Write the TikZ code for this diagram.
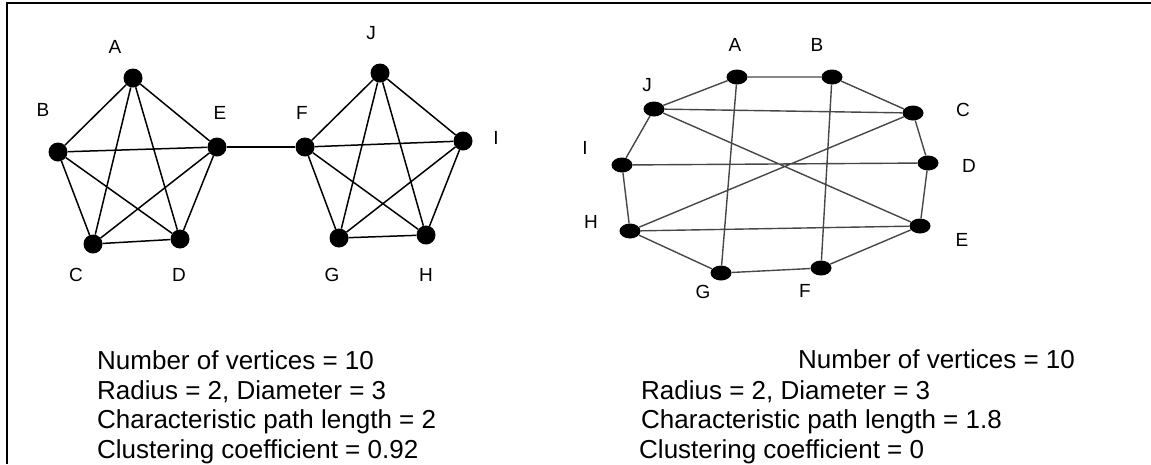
\documentclass[tikz,border=0pt]{standalone}
\usepackage{fontspec}
\setmainfont{Liberation Sans}
\usetikzlibrary{shapes.geometric}

\begin{document}
\begin{tikzpicture}[x=1pt, y=-1pt,
  vtx/.style={circle, fill=black, inner sep=0pt, minimum size=19pt},
  ovx/.style={ellipse, fill=black, inner sep=0pt, minimum width=21pt, minimum height=15pt},
  lbl/.style={inner sep=0pt, font=\fontsize{19}{19}\selectfont},
  stat/.style={anchor=base west, inner sep=0pt, font=\fontsize{26}{30}\selectfont},
  lnk/.style={line width=1.5pt},
  rlnk/.style={line width=1.4pt, draw=black!72}
]
\useasboundingbox (0,0) rectangle (1151,464);

% frame
\draw[line width=2pt] (6.5,464) -- (6.5,3.3) -- (1151,3.3);

% left graph: two K5 joined by E--F
\node[vtx] (lA) at (133,78) {};
\node[vtx] (lB) at (58,152) {};
\node[vtx] (lC) at (93,244) {};
\node[vtx] (lD) at (180,239) {};
\node[vtx] (lE) at (217,147) {};
\node[vtx] (lF) at (305,147) {};
\node[vtx] (lG) at (339,238) {};
\node[vtx] (lH) at (426,235) {};
\node[vtx] (lI) at (463,141) {};
\node[vtx] (lJ) at (380,73) {};

\node[lbl] at (115,47)  {A};
\node[lbl] at (43,110)  {B};
\node[lbl] at (76,275)  {C};
\node[lbl] at (179,275) {D};
\node[lbl] at (220,113) {E};
\node[lbl] at (302,113) {F};
\node[lbl] at (332,275) {G};
\node[lbl] at (426,275) {H};
\node[lbl] at (496,138) {I};
\node[lbl] at (371,33)  {J};

\draw[lnk] (lA) -- (lB) (lA) -- (lC) (lA) -- (lD) (lA) -- (lE)
           (lB) -- (lC) (lB) -- (lD) (lB) -- (lE)
           (lC) -- (lD) (lC) -- (lE) (lD) -- (lE);
\draw[lnk] (lE) -- (lF);
\draw[lnk] (lF) -- (lG) (lF) -- (lH) (lF) -- (lI) (lF) -- (lJ)
           (lG) -- (lH) (lG) -- (lI) (lG) -- (lJ)
           (lH) -- (lI) (lH) -- (lJ) (lI) -- (lJ);

% right graph: 10-cycle with chords
\node[ovx] (rA) at (737,77)  {};
\node[ovx] (rB) at (832,77)  {};
\node[ovx] (rC) at (913,113) {};
\node[ovx] (rD) at (928,163) {};
\node[ovx] (rE) at (920,226) {};
\node[ovx] (rF) at (821,268) {};
\node[ovx] (rG) at (721,273) {};
\node[ovx] (rH) at (630,231) {};
\node[ovx] (rI) at (622,165) {};
\node[ovx] (rJ) at (654,109) {};

\node[lbl] at (735,45)  {A};
\node[lbl] at (817,45)  {B};
\node[lbl] at (963,110) {C};
\node[lbl] at (969,166) {D};
\node[lbl] at (962,240) {E};
\node[lbl] at (805,291) {F};
\node[lbl] at (703,292) {G};
\node[lbl] at (591,222) {H};
\node[lbl] at (585,148) {I};
\node[lbl] at (647,85)  {J};

\draw[rlnk] (rA) -- (rB) -- (rC) -- (rD) -- (rE) -- (rF)
            -- (rG) -- (rH) -- (rI) -- (rJ) -- (rA);
\draw[rlnk] (rA) -- (rG) (rB) -- (rF) (rJ) -- (rC) (rJ) -- (rE)
            (rI) -- (rD) (rH) -- (rC) (rH) -- (rE);

% statistics
\node[stat] (sl1) at (97,369) {Number of vertices = 10};
\node[stat] (sl2) at (97,399) {Radius = 2, Diameter = 3};
\node[stat] (sl3) at (97,428) {Characteristic path length = 2};
\node[stat] (sl4) at (97,458) {Clustering coefficient = 0.92};

\node[stat] (sr1) at (798,368) {Number of vertices = 10};
\node[stat] (sr2) at (641,399) {Radius = 2, Diameter = 3};
\node[stat] (sr3) at (641,428) {Characteristic path length = 1.8};
\node[stat] (sr4) at (639,458) {Clustering coefficient = 0};

\end{tikzpicture}
\end{document}
